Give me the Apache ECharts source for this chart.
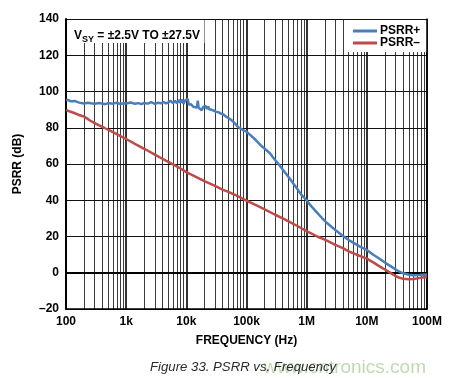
<!DOCTYPE html>
<html><head><meta charset="utf-8">
<script src="https://cdn.jsdelivr.net/npm/echarts@6/dist/echarts.min.js"></script>
<style>html,body{margin:0;padding:0;background:#fff}#c{width:449px;height:378px}</style>
</head><body><div id="c"></div>
<script>
// ---- data ----
const freqTickLabels = ['100', '1k', '10k', '100k', '1M', '10M', '100M'];
const seriesNames = ['PSRR+', 'PSRR–'];

const psrrPlusFreq = [100,110,120,140,160,180,200,230,260,300,350,400,450,500,600,700,800,900,
  1000,1200,1400,1600,1800,2000,2300,2600,3000,3400,3800,4200,4600,5000,5500,6000,6500,7000,7500,
  8000,8500,9000,9500,10000,10500,11000,11500,12000,13000,14000,15000,15500,16000,17000,18000,
  19000,20000,21000,22000,23000,24000,25000,27000,29000,31000,34000,37000,40000,45000,50000,
  55000,60000,66000,72000,80000,90000,100000,120000,140000,170000,200000,245000,290000,340000,
  400000,500000,600000,700000,800000,900000,1e6,1.2e6,1.5e6,1.8e6,2.2e6,3e6,4e6,5e6,6e6,7.7e6,
  1e7,1.3e7,1.65e7,2e7,2.75e7,3.3e7,4e7,5e7,6e7,7.5e7,1e8];
const psrrPlusDb = [95.5,95.2,94.6,94.8,94.0,93.6,93.4,93.8,93.5,93.2,93.7,93.4,93.0,93.6,93.3,93.8,93.1,93.5,
  93.4,93.9,93.2,93.6,93.0,93.7,93.3,94.1,93.2,93.8,93.5,94.2,93.4,94.0,94.8,93.6,94.9,93.5,95.3,
  93.8,95.6,93.2,95.0,93.9,96.0,92.8,92.2,93.0,91.6,92.4,91.2,94.9,91.0,90.3,89.7,
  91.5,90.6,92.0,90.4,91.8,90.2,91.2,89.8,90.5,88.9,88.6,87.9,87.6,86.3,85.4,
  84.4,83.4,82.0,80.4,79.5,78.6,77.8,75.5,73.5,70.5,68.5,65.9,62.8,60.0,
  57.0,52.8,49.2,46.2,43.4,41.6,40.0,36.6,33.0,30.2,27.3,23.6,20.3,18.1,16.5,14.4,
  12.6,9.8,7.6,5.6,2.7,1.0,-0.3,-1.1,-1.4,-1.3,-1.0];

const psrrMinusFreq = [100,120,140,160,180,200,220,250,300,350,430,500,600,700,800,1000,1500,2000,
  3000,4000,5000,6000,8000,10000,15000,20000,30000,40000,50000,70000,100000,150000,200000,300000,
  400000,500000,700000,1e6,1.5e6,2e6,3e6,4e6,5e6,7e6,1e7,1.3e7,1.65e7,2e7,2.5e7,3e7,3.5e7,4e7,
  5e7,6e7,7e7,8.5e7,1e8];
const psrrMinusDb = [89.8,88.8,88.0,87.2,86.6,86.2,85.3,84.0,82.6,81.4,80.0,78.9,77.6,76.5,75.4,73.8,70.6,68.4,
  65.2,62.9,61.2,59.8,57.5,55.5,52.6,50.5,47.9,45.9,44.6,42.4,39.8,37.0,35.0,32.0,
  30.0,28.4,25.8,23.0,20.0,18.3,15.4,13.6,11.8,9.8,7.8,5.6,3.4,1.8,-0.2,-1.8,-2.8,-3.3,
  -3.6,-3.5,-3.1,-2.6,-2.2];

const decadeFreqs = [100, 1000, 10000, 100000, 1e6, 1e7, 1e8];
const minorMultipliers = [2,3,4,5,6,7,8,9];

// ---- build ----
const FONT = 'Liberation Sans, Arial, sans-serif';
const zip = (a, b) => a.map((v, i) => [v, b[i]]);
const minorGrid = [];
decadeFreqs.slice(0, -1).forEach(d => minorMultipliers.forEach(m => minorGrid.push(d * m)));

const chart = echarts.init(document.getElementById('c'), null, {renderer: 'canvas'});
chart.setOption({
  animation: false,
  backgroundColor: '#fff',
  title: [
    {left: 69, top: 25, text: '{a|V}{s|SY}{a| = ±2.5V TO ±27.5V}', z: 8,
      textStyle: {rich: {
        a: {fontSize: 12, fontWeight: 'bold', fontFamily: FONT, color: '#000', verticalAlign: 'top', lineHeight: 14},
        s: {fontSize: 9, fontWeight: 'bold', fontFamily: FONT, color: '#000', verticalAlign: 'top', padding: [5, 0, 0, 0], lineHeight: 10}
      }}},
    {right: 18, top: 353, text: 'www.cntronics.com',
      textStyle: {fontSize: 19, fontWeight: 'normal', fontFamily: FONT, color: 'rgba(140,185,120,0.55)'}},
    {left: 145, top: 356, text: 'Figure 33. PSRR vs. Frequency',
      textStyle: {fontSize: 13.2, fontStyle: 'italic', fontWeight: 'normal', fontFamily: FONT, color: '#2a2a2a'}}
  ],
  legend: {
    data: seriesNames, orient: 'vertical', left: 348, top: 20, itemGap: 0, z: 8,
    itemWidth: 24, itemHeight: 3, icon: 'rect', selectedMode: false,
    textStyle: {fontSize: 12, fontWeight: 'bold', fontFamily: FONT, color: '#000', lineHeight: 12, padding: [0,0,0,-2]}
  },
  grid: {left: 66, right: 22, top: 19, bottom: 69, containLabel: false},
  xAxis: [
    {type: 'log', logBase: 10, min: 100, max: 1e8, z: 4,
      axisLine: {lineStyle: {color: '#000', width: 2}},
      axisTick: {show: false},
      splitLine: {show: false},
      axisLabel: {margin: 7, fontSize: 12, fontWeight: 'bold', fontFamily: FONT, color: '#000',
        formatter: v => freqTickLabels[Math.round(Math.log10(v)) - 2]},
      name: 'FREQUENCY (Hz)', nameLocation: 'middle', nameGap: 26,
      nameTextStyle: {fontSize: 12, fontWeight: 'bold', fontFamily: FONT, color: '#000'}},
    {type: 'value', position: 'top', min: 0, max: 1, z: 4,
      axisLine: {show: true, lineStyle: {color: '#000', width: 1.5}},
      axisTick: {show: false}, axisLabel: {show: false}, splitLine: {show: false}}
  ],
  yAxis: [
    {type: 'value', min: -20, max: 140, interval: 20, z: 4,
      axisLine: {show: true, lineStyle: {color: '#000', width: 2}},
      axisTick: {show: false},
      splitLine: {show: true, lineStyle: {color: '#111', width: 1.2}},
      axisLabel: {margin: 7, fontSize: 12, fontWeight: 'bold', fontFamily: FONT, color: '#000',
        formatter: v => v < 0 ? '–' + (-v) : String(v)},
      name: 'PSRR (dB)', nameLocation: 'middle', nameGap: 42, nameRotate: 90,
      nameTextStyle: {fontSize: 12, fontWeight: 'bold', fontFamily: FONT, color: '#000'}},
    {type: 'value', position: 'right', min: 0, max: 1, z: 4,
      axisLine: {show: true, lineStyle: {color: '#000', width: 1.5}},
      axisTick: {show: false}, axisLabel: {show: false}, splitLine: {show: false}}
  ],
  series: [
    {type: 'line', name: 'gridlines', data: [], z: 1, silent: true,
      markLine: {z: 1, silent: true, symbol: 'none', label: {show: false}, animation: false,
        data: [
          ...minorGrid.map(f => ({xAxis: f, lineStyle: {color: '#3a3a3a', width: 1, type: 'solid'}})),
          ...decadeFreqs.map(f => ({xAxis: f, lineStyle: {color: '#000', width: 1.6, type: 'solid'}}))
        ]}},
    {type: 'line', name: 'mask', data: [], z: 2, silent: true,
      markArea: {z: 3, silent: true, itemStyle: {color: '#fff', opacity: 1}, label: {show: false},
        data: [
          [{xAxis: 4.3e6, yAxis: 140}, {xAxis: 1e8, yAxis: 121.8}],
          [{xAxis: 100, yAxis: 140}, {xAxis: 20000, yAxis: 126.8}]
        ]}},
    {type: 'line', name: seriesNames[0], data: zip(psrrPlusFreq, psrrPlusDb), z: 6,
      showSymbol: false, color: '#4A7EBB', lineStyle: {width: 2.5, color: '#4A7EBB'}},
    {type: 'line', name: seriesNames[1], data: zip(psrrMinusFreq, psrrMinusDb), z: 6,
      showSymbol: false, color: '#BE4B48', lineStyle: {width: 2.5, color: '#BE4B48'}}
  ]
});
</script></body></html>
